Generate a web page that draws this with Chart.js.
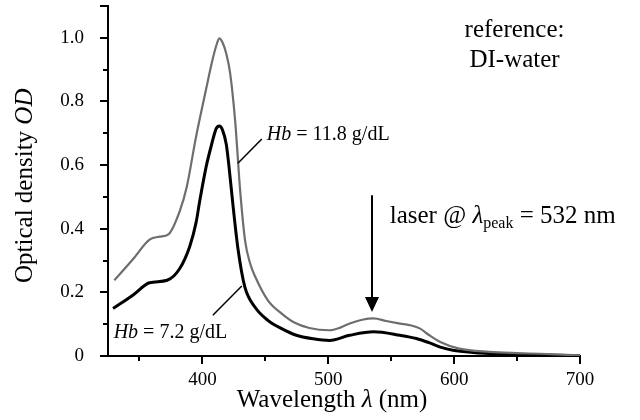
<!DOCTYPE html>
<html>
<head>
<meta charset="utf-8">
<script src="https://cdn.jsdelivr.net/npm/chart.js@4/dist/chart.umd.min.js"></script>
<style>
html,body{margin:0;padding:0;background:#fff;}
#wrap{width:640px;height:420px;position:relative;}
</style>
</head>
<body>
<div id="wrap"><canvas id="c" width="640" height="420"></canvas></div>
<script>
// ---- data ----
const wavelengthHb118 = [330,345,358,366,373,382,387.5,395,403,408,411,413.5,416,419,422,426,430,434,438,442,452,463,473,485,501,510,517,527,536,546,557,566,573,580,589,604,628,650,668,700];
const odHb118 =         [0.238,0.305,0.366,0.375,0.382,0.455,0.53,0.69,0.84,0.93,0.975,0.998,0.985,0.95,0.89,0.74,0.52,0.36,0.29,0.249,0.175,0.133,0.105,0.088,0.081,0.09,0.102,0.114,0.118,0.11,0.102,0.096,0.086,0.066,0.044,0.023,0.013,0.009,0.007,0.002];

const wavelengthHb72 = [329,345,358,372,382,390,395,398,403,407,411,413.5,416,419,421,424.4,428.4,433.7,441.7,452,463,474,488,501,517,536,557,570,580,589,599,615,640,670,700];
const odHb72 =         [0.149,0.192,0.23,0.238,0.275,0.345,0.42,0.49,0.595,0.66,0.715,0.723,0.71,0.665,0.6,0.47,0.333,0.217,0.154,0.112,0.086,0.066,0.054,0.049,0.065,0.076,0.065,0.055,0.042,0.028,0.018,0.011,0.006,0.003,0.001];

const xTickLabels = ['400','500','600','700'];
const yTickLabels = ['0','0.2','0.4','0.6','0.8','1.0'];
const seriesNames = ['Hb = 11.8 g/dL','Hb = 7.2 g/dL'];
const laserWavelength = 532;

const SERIF = '"Liberation Serif","Times New Roman",serif';

function toXY(xs, ys){ return xs.map((x,i)=>({x:x, y:ys[i]})); }

function drawParts(ctx, x, y, parts){
  let cx = x;
  parts.forEach(p=>{
    ctx.font = (p.italic?'italic ':'') + p.size + 'px ' + SERIF;
    ctx.fillText(p.t, cx, y + (p.dy||0));
    cx += ctx.measureText(p.t).width;
  });
  return cx - x;
}
function partsWidth(ctx, parts){
  let w = 0;
  parts.forEach(p=>{ ctx.font=(p.italic?'italic ':'')+p.size+'px '+SERIF; w+=ctx.measureText(p.t).width; });
  return w;
}

const decor = {
  id:'decor',
  afterDraw(chart){
    const ctx = chart.ctx, xs = chart.scales.x, ys = chart.scales.y;
    const ca = chart.chartArea;
    ctx.save();
    ctx.strokeStyle = '#000'; ctx.fillStyle = '#000'; ctx.lineWidth = 2;
    for (let v = 350; v <= 700; v += 50){
      const px = Math.round(xs.getPixelForValue(v));
      const len = (v % 100 === 0) ? 8 : 5;
      ctx.beginPath(); ctx.moveTo(px, ca.bottom); ctx.lineTo(px, ca.bottom + len); ctx.stroke();
    }
    for (let i = 0; i <= 11; i++){
      const v = i/10;
      const py = Math.round(ys.getPixelForValue(v));
      const len = (i % 2 === 0 || i === 11) ? 8 : 5;
      ctx.beginPath(); ctx.moveTo(ca.left, py); ctx.lineTo(ca.left - len, py); ctx.stroke();
    }
    ctx.textBaseline = 'alphabetic'; ctx.textAlign = 'left';
    const xt = [{t:'Wavelength ',size:25},{t:'λ',italic:true,size:25},{t:' (nm)',size:25}];
    const xw = partsWidth(ctx, xt);
    drawParts(ctx, xs.getPixelForValue(503) - xw/2, 407, xt);
    const yt = [{t:'Optical density ',size:25},{t:'OD',italic:true,size:25}];
    const yw = partsWidth(ctx, yt);
    ctx.save();
    ctx.translate(32, ys.getPixelForValue(0.535));
    ctx.rotate(-Math.PI/2);
    drawParts(ctx, -yw/2, 0, yt);
    ctx.restore();

    ctx.font = '25px ' + SERIF; ctx.textAlign = 'center';
    const rx = xs.getPixelForValue(648);
    ctx.fillText('reference:', rx, ys.getPixelForValue(1.002));
    ctx.fillText('DI-water', rx, ys.getPixelForValue(0.907));
    ctx.textAlign = 'left';

    drawParts(ctx, xs.getPixelForValue(451.2), ys.getPixelForValue(0.679),
      [{t:'Hb',italic:true,size:20},{t:' = 11.8 g/dL',size:20}]);
    drawParts(ctx, xs.getPixelForValue(329.5), ys.getPixelForValue(0.057),
      [{t:'Hb',italic:true,size:20},{t:' = 7.2 g/dL',size:20}]);
    ctx.lineWidth = 1.5;
    ctx.beginPath();
    ctx.moveTo(xs.getPixelForValue(428.2), ys.getPixelForValue(0.606));
    ctx.lineTo(xs.getPixelForValue(447.2), ys.getPixelForValue(0.682));
    ctx.stroke();
    ctx.beginPath();
    ctx.moveTo(xs.getPixelForValue(408.3), ys.getPixelForValue(0.128));
    ctx.lineTo(xs.getPixelForValue(431.3), ys.getPixelForValue(0.22));
    ctx.stroke();

    const ax = Math.round(xs.getPixelForValue(534.8));
    const aTop = ys.getPixelForValue(0.505), aTip = ys.getPixelForValue(0.138);
    ctx.lineWidth = 2;
    ctx.beginPath(); ctx.moveTo(ax, aTop); ctx.lineTo(ax, aTip - 10); ctx.stroke();
    ctx.beginPath(); ctx.moveTo(ax - 7, aTip - 15); ctx.lineTo(ax + 7, aTip - 15); ctx.lineTo(ax, aTip); ctx.closePath(); ctx.fill();
    drawParts(ctx, xs.getPixelForValue(548.8), ys.getPixelForValue(0.419), [
      {t:'laser @ ',size:25},{t:'λ',italic:true,size:25},{t:'peak',size:16,dy:5},{t:' = ' + laserWavelength + ' nm',size:25}
    ]);
    ctx.restore();
  }
};

new Chart(document.getElementById('c'), {
  type:'line',
  data:{
    datasets:[
      { label: seriesNames[0], data: toXY(wavelengthHb118, odHb118), borderColor:'#6e6e6e', borderWidth:2.2,
        pointRadius:0, cubicInterpolationMode:'monotone', fill:false },
      { label: seriesNames[1], data: toXY(wavelengthHb72, odHb72), borderColor:'#000', borderWidth:3,
        pointRadius:0, cubicInterpolationMode:'monotone', fill:false }
    ]
  },
  options:{
    responsive:false, animation:false, devicePixelRatio:1,
    layout:{ padding:{ top:6, right:60, left:0, bottom:0 } },
    plugins:{ legend:{display:false}, tooltip:{enabled:false} },
    scales:{
      x:{ type:'linear', min:325, max:700,
        grid:{ display:false },
        border:{ display:true, color:'#000', width:2 },
        ticks:{ stepSize:50, autoSkip:false, maxRotation:0, padding:5, color:'#000',
          font:{ family:SERIF, size:19 },
          callback:(v)=>{ const s = String(v); return xTickLabels.includes(s) ? s : ''; } },
        afterFit:(s)=>{ s.height = 64; s.paddingLeft = 0; s.paddingRight = 0; }
      },
      y:{ min:0, max:1.1,
        grid:{ display:false },
        border:{ display:true, color:'#000', width:2 },
        ticks:{ stepSize:0.1, autoSkip:false, padding:16, color:'#000',
          font:{ family:SERIF, size:19 },
          callback:(v)=>{ const i = Math.round(v*10); return (i%2===0 && i/2 < yTickLabels.length) ? yTickLabels[i/2] : ''; } },
        afterFit:(s)=>{ s.width = 108; s.paddingTop = 0; s.paddingBottom = 0; }
      }
    }
  },
  plugins:[decor]
});
</script>
</body>
</html>
